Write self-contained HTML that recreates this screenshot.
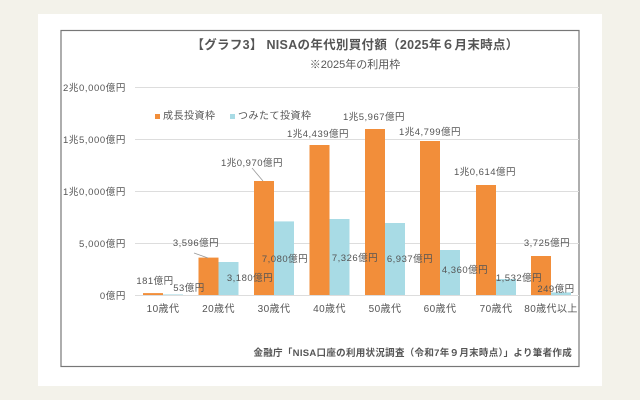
<!DOCTYPE html>
<html><head><meta charset="utf-8"><style>
html,body{margin:0;padding:0;background:#f3f2ea;}
body{width:640px;height:400px;position:relative;overflow:hidden;}
svg{position:absolute;left:0;top:0;}
text{font-family:"Liberation Sans","Noto Sans CJK JP",sans-serif;fill:#555;}
</style></head><body>
<svg width="640" height="400" viewBox="0 0 640 400">
<rect x="38" y="14" width="564" height="372" fill="#fff"/>
<rect x="61" y="30.5" width="518" height="336" fill="#fff" stroke="#777" stroke-width="1.2"/>
<text x="355" y="49" font-size="12.5" font-weight="bold" text-anchor="middle" fill="#444" letter-spacing="0.3">【グラフ3】 NISAの年代別買付額（2025年６月末時点）</text>
<text x="355" y="68" font-size="11" text-anchor="middle">※2025年の利用枠</text>
<g stroke="#ddd" stroke-width="1">
<line x1="135" y1="87.5" x2="579" y2="87.5"/>
<line x1="135" y1="139.5" x2="579" y2="139.5"/>
<line x1="135" y1="191.5" x2="579" y2="191.5"/>
<line x1="135" y1="243.5" x2="579" y2="243.5"/>
<line x1="135" y1="295.5" x2="579" y2="295.5"/>
</g>
<g font-size="9.5" text-anchor="end" letter-spacing="0.6">
<text x="126" y="91">2兆0,000億円</text>
<text x="126" y="143">1兆5,000億円</text>
<text x="126" y="195">1兆0,000億円</text>
<text x="126" y="247">5,000億円</text>
<text x="126" y="299">0億円</text>
</g>
<rect x="155" y="114" width="5" height="5" fill="#f28e3a"/>
<text x="163" y="119" font-size="10" letter-spacing="0.5">成長投資枠</text>
<rect x="230" y="114" width="5" height="5" fill="#a8dbe5"/>
<text x="238" y="119" font-size="10" letter-spacing="0.5">つみたて投資枠</text>
<g fill="#f28e3a">
<rect x="143" y="293.1" width="20" height="1.9"/>
<rect x="198.5" y="257.6" width="20" height="37.4"/>
<rect x="254" y="181" width="20" height="114"/>
<rect x="309.5" y="145" width="20" height="150"/>
<rect x="365" y="129" width="20" height="166"/>
<rect x="420" y="141" width="20" height="154"/>
<rect x="476" y="185" width="20" height="110"/>
<rect x="531" y="256" width="20" height="39"/>
</g>
<g fill="#a8dbe5">
<rect x="163" y="294.4" width="20" height="0.6"/>
<rect x="218.5" y="262" width="20" height="33"/>
<rect x="274" y="221.4" width="20" height="73.6"/>
<rect x="329.5" y="219" width="20" height="76"/>
<rect x="385" y="223" width="20" height="72"/>
<rect x="440" y="250" width="20" height="45"/>
<rect x="496" y="279" width="20" height="16"/>
<rect x="551" y="292.4" width="20" height="2.6"/>
</g>
<line x1="194" y1="253" x2="208" y2="258" stroke="#999" stroke-width="0.8"/>
<line x1="252" y1="168" x2="263" y2="181" stroke="#999" stroke-width="0.8"/>
<g font-size="9.5" text-anchor="middle" fill="#555" letter-spacing="0.5">
<text x="155" y="284">181億円</text>
<text x="189" y="291">53億円</text>
<text x="196" y="246">3,596億円</text>
<text x="250" y="281">3,180億円</text>
<text x="252" y="166">1兆0,970億円</text>
<text x="285" y="262">7,080億円</text>
<text x="318" y="137">1兆4,439億円</text>
<text x="355" y="261">7,326億円</text>
<text x="374" y="120">1兆5,967億円</text>
<text x="410" y="262">6,937億円</text>
<text x="430" y="135">1兆4,799億円</text>
<text x="465" y="273">4,360億円</text>
<text x="485" y="175">1兆0,614億円</text>
<text x="519" y="281">1,532億円</text>
<text x="547" y="246">3,725億円</text>
<text x="556" y="292">249億円</text>
</g>
<g font-size="10" text-anchor="middle" fill="#555" letter-spacing="0.4">
<text x="163" y="312">10歳代</text>
<text x="218.5" y="312">20歳代</text>
<text x="274" y="312">30歳代</text>
<text x="329.5" y="312">40歳代</text>
<text x="385" y="312">50歳代</text>
<text x="440" y="312">60歳代</text>
<text x="496" y="312">70歳代</text>
<text x="551" y="312">80歳代以上</text>
</g>
<text x="572" y="356" font-size="9.5" font-weight="bold" text-anchor="end" fill="#444" letter-spacing="0.3">金融庁「NISA口座の利用状況調査（令和7年９月末時点）」より筆者作成</text>
</svg>
</body></html>
